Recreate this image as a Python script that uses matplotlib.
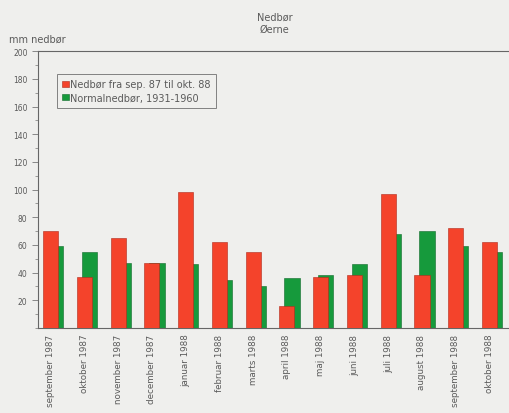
import matplotlib.pyplot as plt
import numpy as np
from matplotlib.ticker import MultipleLocator, FixedLocator

months = ['september 1987', 'oktober 1987', 'november 1987', 'december 1987',
          'januar 1988', 'februar 1988', 'marts 1988', 'april 1988',
          'maj 1988', 'juni 1988', 'juli 1988', 'august 1988',
          'september 1988', 'oktober 1988']
nedbor = [70, 37, 65, 47, 98, 62, 55, 16, 37, 38, 97, 38, 72, 62]
normal = [59, 55, 47, 47, 46, 35, 30, 36, 38, 46, 68, 70, 59, 55]

bg = '#efefed'
red = '#f4432b'
green = '#169a3c'
txt = '#5a5a5a'

fig = plt.figure(figsize=(5.09, 4.14), dpi=100, facecolor=bg)
ax = fig.add_axes([0.0747, 0.2053, 0.93, 0.6686], facecolor=bg)

x = np.arange(len(months))
ax.bar(x + 0.15, normal, width=0.45, color=green, edgecolor='#0f6a2a',
       linewidth=0.4, label='Normalnedbør, 1931-1960', zorder=2)
ax.bar(x, nedbor, width=0.45, color=red, edgecolor='#b02a1a',
       linewidth=0.4, label='Nedbør fra sep. 87 til okt. 88', zorder=3)

ax.set_xlim(-0.372, 13.65)
ax.set_ylim(0, 200)
ax.yaxis.set_major_locator(FixedLocator(range(20, 201, 20)))
ax.yaxis.set_minor_locator(MultipleLocator(10))
ax.tick_params(axis='y', which='major', labelsize=5.5, labelcolor=txt,
               length=4, width=0.6, color='#777777')
ax.tick_params(axis='y', which='minor', length=2, width=0.5, color='#777777')
ax.set_xticks(x)
ax.set_xticklabels(months, rotation=90, fontsize=6.3, color=txt, va='top')
ax.tick_params(axis='x', length=0, pad=4)

for s in ['left', 'top', 'bottom']:
    ax.spines[s].set_color('#666666')
    ax.spines[s].set_linewidth(0.8)
ax.spines['right'].set_visible(False)

handles, labels = ax.get_legend_handles_labels()
leg = ax.legend(handles[::-1], labels[::-1], loc='upper left',
                bbox_to_anchor=(0.04, 0.918), fontsize=7, frameon=True,
                fancybox=False, edgecolor='#666666', facecolor=bg,
                handlelength=0.7, handleheight=0.55, handletextpad=0.1,
                borderpad=0.55, labelspacing=0.35, borderaxespad=0)
leg.get_frame().set_linewidth(0.7)
for t in leg.get_texts():
    t.set_color(txt)

fig.text(0.54, 0.957, 'Nedbør', fontsize=7, color=txt, ha='center', va='center')
fig.text(0.54, 0.928, 'Øerne', fontsize=7, color=txt, ha='center', va='center')
fig.text(0.018, 0.905, 'mm nedbør', fontsize=7, color=txt, ha='left', va='center')

fig.savefig('out.png', dpi=100, facecolor=bg)
